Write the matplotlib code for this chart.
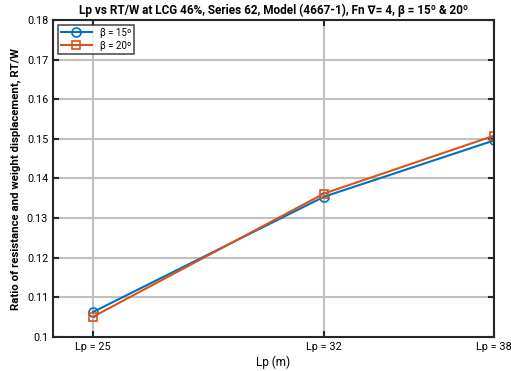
import matplotlib.pyplot as plt

plt.rcParams["font.family"] = ["Roboto", "DejaVu Sans"]

lp_labels = ["Lp = 25", "Lp = 32", "Lp = 38"]
x_pos = [1.0, 2.0, 2.736]
rtw_15 = [0.1063, 0.1354, 0.1496]
rtw_20 = [0.1051, 0.1362, 0.1508]
y_ticks = [0.1, 0.11, 0.12, 0.13, 0.14, 0.15, 0.16, 0.17, 0.18]

fig = plt.figure(figsize=(5.11, 3.71), dpi=100)
ax = fig.add_axes([53 / 511, 34 / 371, 441 / 511, 317 / 371])

ax.plot(x_pos, rtw_15, color="#0072BD", linewidth=1.5, marker="o",
        markersize=6.5, markerfacecolor="none", markeredgewidth=1.2,
        label="β = 15º")
ax.plot(x_pos, rtw_20, color="#D95319", linewidth=1.5, marker="s",
        markersize=6, markerfacecolor="none", markeredgewidth=1.2,
        label="β = 20º")

ax.set_xlim(0.827, 2.736)
ax.set_ylim(0.1, 0.18)
ax.set_xticks(x_pos)
ax.set_xticklabels(lp_labels)
ax.set_yticks(y_ticks)
ax.set_yticklabels(["0.1"] + [f"{v:.2f}" for v in y_ticks[1:]])
# last label sits against the figure edge
ax.get_xticklabels()[-1].set_horizontalalignment("center")

ax.grid(True, color="#c0c0c0", linewidth=1.5)
ax.set_axisbelow(True)
for s in ax.spines.values():
    s.set_linewidth(1.5)
    s.set_color("#262626")
ax.tick_params(direction="in", top=True, right=True, length=4, width=1.5,
               labelsize=7.8, colors="#262626", labelcolor="black")

ax.set_xlabel("Lp (m)", fontsize=8.5, labelpad=3)
ax.set_ylabel("Ratio of resistance and weight displacement, RT/W",
              fontsize=8.2, fontweight="bold", labelpad=4)
ax.set_title("Lp vs RT/W at LCG 46%, Series 62, Model (4667-1), Fn ∇= 4, β = 15º & 20º",
             fontsize=8.5, fontweight="bold", pad=4)

leg = ax.legend(loc="upper left", fontsize=7, frameon=True, fancybox=False,
                borderpad=0.3, handlelength=3.2, labelspacing=0.3,
                bbox_to_anchor=(0.0, 1.0))
leg.get_frame().set_edgecolor("#262626")
leg.get_frame().set_linewidth(1.2)

fig.savefig("out.png", dpi=100)
